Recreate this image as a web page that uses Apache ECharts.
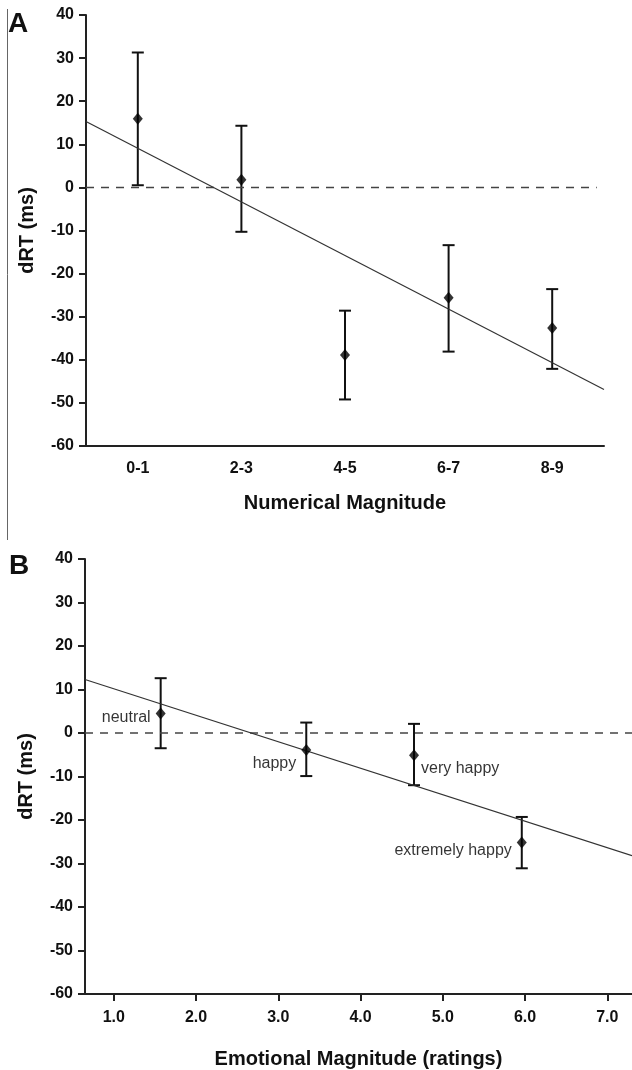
<!DOCTYPE html>
<html>
<head>
<meta charset="utf-8">
<script src="https://cdn.jsdelivr.net/npm/echarts@6/dist/echarts.min.js"></script>
<style>
  html, body { margin: 0; padding: 0; background: #fff; }
  #main { width: 632px; height: 1070px; }
</style>
</head>
<body>
<div id="main"></div>
<script>
// panel A: numerical magnitude
var catA = ['0-1', '2-3', '4-5', '6-7', '8-9'];
var meanA = [15.9, 1.8, -38.9, -25.6, -32.6];
var upperA = [31.3, 14.3, -28.6, -13.4, -23.6];
var lowerA = [0.5, -10.3, -49.2, -38.1, -42.1];
// regression line, x in category-width units (0 = left edge, 5 = right edge)
var fitAx = [0, 5];
var fitAy = [15.3, -46.9];
var zeroAx = [0, 4.93];

// panel B: emotional magnitude
var xB = [1.57, 3.34, 4.65, 5.96];
var meanB = [4.5, -3.9, -5.1, -25.2];
var upperB = [12.6, 2.4, 2.1, -19.3];
var lowerB = [-3.5, -9.9, -12.0, -31.1];
var namesB = ['neutral', 'happy', 'very happy', 'extremely happy'];
var fitBx = [0.65, 7.3];
var fitBy = [12.3, -28.2];
var ticksB = [1, 2, 3, 4, 5, 6, 7];

var yTicks = [-60, -50, -40, -30, -20, -10, 0, 10, 20, 30, 40];

var font = 'Arial, "Liberation Sans", sans-serif';
var ink = '#111';

var myChart = echarts.init(document.getElementById('main'));

function errBars(params, api) {
    var hi = api.coord([api.value(0), api.value(2)]);
    var lo = api.coord([api.value(0), api.value(1)]);
    var w = 6;
    var st = { stroke: ink, lineWidth: 2 };
    return {
        type: 'group',
        children: [
            { type: 'line', shape: { x1: hi[0], y1: hi[1], x2: lo[0], y2: lo[1] }, style: st },
            { type: 'line', shape: { x1: hi[0] - w, y1: hi[1], x2: hi[0] + w, y2: hi[1] }, style: st },
            { type: 'line', shape: { x1: lo[0] - w, y1: lo[1], x2: lo[0] + w, y2: lo[1] }, style: st }
        ]
    };
}

var axisLine = { onZero: false, lineStyle: { color: '#222', width: 2 } };
var axisTick = { length: 7, lineStyle: { color: '#222', width: 2 } };
var tickLabel = { color: ink, fontSize: 16, fontWeight: 'bold', fontFamily: font };
var nameStyle = { color: ink, fontSize: 20, fontWeight: 'bold', fontFamily: font };

function yAxisFor(gridIndex) {
    return {
        gridIndex: gridIndex,
        type: 'value',
        min: yTicks[0],
        max: yTicks[yTicks.length - 1],
        interval: 10,
        name: 'dRT (ms)',
        nameLocation: 'middle',
        nameGap: 49,
        nameTextStyle: nameStyle,
        axisLine: axisLine,
        axisTick: axisTick,
        axisLabel: Object.assign({ margin: 12 }, tickLabel),
        splitLine: { show: false }
    };
}

var labelOffsets = [
    { position: 'left', offset: [0, 4] },
    { position: 'left', offset: [0, 14] },
    { position: 'right', offset: [0, 13], distance: 2 },
    { position: 'left', offset: [0, 8] }
];

myChart.setOption({
    animation: false,
    backgroundColor: '#fff',
    grid: [
        { left: 86, top: 15, width: 518, height: 431 },
        { left: 85, top: 559, width: 547, height: 436 }
    ],
    xAxis: [
        {
            gridIndex: 0,
            type: 'category',
            data: catA,
            boundaryGap: true,
            name: 'Numerical Magnitude',
            nameLocation: 'middle',
            nameGap: 47,
            nameTextStyle: nameStyle,
            axisLine: axisLine,
            axisTick: Object.assign({ alignWithLabel: true }, axisTick),
            axisLabel: Object.assign({ margin: 15 }, tickLabel)
        },
        {
            gridIndex: 0,
            type: 'value',
            min: 0,
            max: 5,
            show: false
        },
        {
            gridIndex: 1,
            type: 'value',
            min: fitBx[0],
            max: fitBx[1],
            name: 'Emotional Magnitude (ratings)',
            nameLocation: 'middle',
            nameGap: 55,
            nameTextStyle: nameStyle,
            axisLine: axisLine,
            axisTick: Object.assign({ customValues: ticksB }, axisTick),
            axisLabel: Object.assign({
                margin: 16,
                customValues: ticksB,
                formatter: function (v) { return v.toFixed(1); }
            }, tickLabel),
            splitLine: { show: false }
        }
    ],
    yAxis: [yAxisFor(0), yAxisFor(1)],
    graphic: [
        { type: 'line', shape: { x1: 7.5, y1: 9, x2: 7.5, y2: 540 }, style: { stroke: '#666', lineWidth: 1 } },
        { type: 'text', left: 8, top: 10, style: { text: 'A', fontSize: 28, fontWeight: 'bold', fontFamily: font, fill: ink } },
        { type: 'text', left: 9, top: 552, style: { text: 'B', fontSize: 28, fontWeight: 'bold', fontFamily: font, fill: ink } }
    ],
    series: [
        // panel A
        {
            type: 'line', xAxisIndex: 1, yAxisIndex: 0,
            data: zeroAx.map(function (x) { return [x, 0]; }),
            symbol: 'none',
            lineStyle: { color: '#444', width: 1.5, type: [8, 7] }
        },
        {
            type: 'line', xAxisIndex: 1, yAxisIndex: 0,
            data: fitAx.map(function (x, i) { return [x, fitAy[i]]; }),
            symbol: 'none',
            lineStyle: { color: '#333', width: 1.2 }
        },
        {
            type: 'custom', xAxisIndex: 0, yAxisIndex: 0,
            renderItem: errBars,
            data: catA.map(function (c, i) { return [i, lowerA[i], upperA[i]]; }),
            z: 3
        },
        {
            type: 'scatter', xAxisIndex: 0, yAxisIndex: 0,
            data: meanA,
            symbol: 'diamond',
            symbolSize: [10, 12],
            itemStyle: { color: '#000' },
            z: 4
        },
        // panel B
        {
            type: 'line', xAxisIndex: 2, yAxisIndex: 1,
            data: fitBx.map(function (x) { return [x, 0]; }),
            symbol: 'none',
            lineStyle: { color: '#444', width: 1.5, type: [8, 7] }
        },
        {
            type: 'line', xAxisIndex: 2, yAxisIndex: 1,
            data: fitBx.map(function (x, i) { return [x, fitBy[i]]; }),
            symbol: 'none',
            lineStyle: { color: '#333', width: 1.2 }
        },
        {
            type: 'custom', xAxisIndex: 2, yAxisIndex: 1,
            renderItem: errBars,
            data: xB.map(function (x, i) { return [x, lowerB[i], upperB[i]]; }),
            z: 3
        },
        {
            type: 'scatter', xAxisIndex: 2, yAxisIndex: 1,
            data: xB.map(function (x, i) {
                return {
                    value: [x, meanB[i]],
                    name: namesB[i],
                    label: Object.assign({
                        show: true,
                        formatter: '{b}',
                        color: '#000',
                        fontSize: 16,
                        fontFamily: font
                    }, labelOffsets[i])
                };
            }),
            symbol: 'diamond',
            symbolSize: [10, 12],
            itemStyle: { color: '#000' },
            z: 4
        }
    ]
});
</script>
</body>
</html>
